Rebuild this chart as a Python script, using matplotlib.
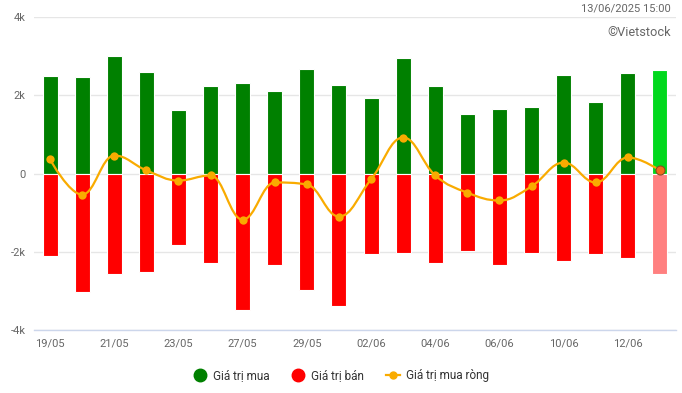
import matplotlib
matplotlib.use("Agg")
import matplotlib.pyplot as plt
from matplotlib.path import Path
from matplotlib.patches import PathPatch
from matplotlib.lines import Line2D
import numpy as np

plt.rcParams['font.family'] = ['Roboto', 'DejaVu Sans']

dates = ["19/05", "20/05", "21/05", "22/05", "23/05", "26/05", "27/05", "28/05", "29/05", "30/05",
         "02/06", "03/06", "04/06", "05/06", "06/06", "09/06", "10/06", "11/06", "12/06", "13/06"]
buy = [2490, 2460, 3000, 2590, 1615, 2230, 2310, 2100, 2670, 2260,
       1920, 2950, 2230, 1510, 1640, 1690, 2510, 1820, 2560, 2640]
sell = [-2120, -3020, -2560, -2530, -1820, -2280, -3480, -2350, -2970, -3380,
        -2070, -2020, -2300, -1990, -2350, -2020, -2230, -2050, -2150, -2560]
net = [360, -540, 460, 80, -180, -50, -1180, -230, -280, -1100,
       -150, 920, -50, -490, -690, -330, 280, -230, 410, 80]
yticks = [-4000, -2000, 0, 2000, 4000]
ytick_labels = ["-4k", "-2k", "0", "2k", "4k"]

W, H = 682, 393
fig = plt.figure(figsize=(W / 100, H / 100), dpi=100)
ax = fig.add_axes([34 / W, 1 - 330 / H, (676 - 34) / W, (330 - 17) / H])

x = np.arange(len(dates))
buy_colors = ["#008000"] * (len(dates) - 1) + ["#00d81c"]
sell_colors = ["#ff0000"] * (len(dates) - 1) + ["#ff8080"]
ax.bar(x, buy, width=0.47, color=buy_colors, edgecolor="white", linewidth=0.8, zorder=2)
ax.bar(x, sell, width=0.47, color=sell_colors, edgecolor="white", linewidth=0.8, zorder=2)

# Highcharts-style spline
def spline_path(xs, ys, smoothing=1.5):
    n = len(xs)
    denom = smoothing + 1
    lc = [(xs[i], ys[i]) for i in range(n)]
    rc = [(xs[i], ys[i]) for i in range(n)]
    for i in range(1, n - 1):
        px, py = xs[i], ys[i]
        lx, ly = xs[i - 1], ys[i - 1]
        nx, ny = xs[i + 1], ys[i + 1]
        lcx = (smoothing * px + lx) / denom
        lcy = (smoothing * py + ly) / denom
        rcx = (smoothing * px + nx) / denom
        rcy = (smoothing * py + ny) / denom
        if rcx != lcx:
            corr = ((rcy - lcy) * (rcx - px)) / (rcx - lcx) + py - rcy
            lcy += corr
            rcy += corr
        if lcy > ly and lcy > py:
            lcy = max(ly, py); rcy = 2 * py - lcy
        elif lcy < ly and lcy < py:
            lcy = min(ly, py); rcy = 2 * py - lcy
        if rcy > ny and rcy > py:
            rcy = max(ny, py); lcy = 2 * py - rcy
        elif rcy < ny and rcy < py:
            rcy = min(ny, py); lcy = 2 * py - rcy
        lc[i] = (lcx, lcy)
        rc[i] = (rcx, rcy)
    verts = [(xs[0], ys[0])]
    codes = [Path.MOVETO]
    for i in range(1, n):
        verts += [rc[i - 1], lc[i], (xs[i], ys[i])]
        codes += [Path.CURVE4] * 3
    return Path(verts, codes)

line_color = "#f9ab00"
ax.add_patch(PathPatch(spline_path(list(x.astype(float)), net), fill=False,
                       edgecolor=line_color, linewidth=1.6, zorder=3))
ax.plot(x[:-1], net[:-1], "o", color=line_color, markersize=6, zorder=4, markeredgewidth=0)
ax.plot(x[-1:], net[-1:], "o", color="#f26a1b", markersize=6.5, zorder=4,
        markeredgecolor="#8a4a20", markeredgewidth=0.8)

ax.set_xlim(-0.5, len(dates) - 0.5)
ax.set_ylim(-4000, 4000)
ax.set_yticks(yticks)
ax.set_yticklabels(ytick_labels)
ax.set_xticks(x[::2])
ax.set_xticklabels(dates[::2])
ax.grid(axis="y", color="#e6e6e6", linewidth=1, zorder=0)
ax.set_axisbelow(True)
for s in ["top", "right", "left"]:
    ax.spines[s].set_visible(False)
ax.spines["bottom"].set_color("#ccd6eb")
ax.spines["bottom"].set_linewidth(1)
ax.tick_params(axis="y", length=0, pad=6, labelsize=8, labelcolor="#666666")
ax.tick_params(axis="x", length=0, pad=6, labelsize=8, labelcolor="#666666")
for lab in ax.get_yticklabels():
    lab.set_horizontalalignment("right")

fig.text(671 / W, 1 - 9 / H, "13/06/2025 15:00", ha="right", va="center",
         fontsize=8, color="#666666")
fig.text(671 / W, 1 - 33 / H, "©Vietstock", ha="right", va="center",
         fontsize=9.2, color="#666666")

handles = [
    Line2D([], [], linestyle="none", marker="o", color="#008000", markersize=9),
    Line2D([], [], linestyle="none", marker="o", color="#ff0000", markersize=9),
    Line2D([], [], color=line_color, marker="o", markersize=5, linewidth=1.6),
]
fig.legend(handles, ["Giá trị mua", "Giá trị bán", "Giá trị mua ròng"],
           loc="center", bbox_to_anchor=(0.5, 1 - 376 / H), ncol=3, frameon=False,
           fontsize=8.5, handlelength=1.2, handletextpad=0.5, columnspacing=1.8,
           labelcolor="#333333")

fig.savefig("out.png", dpi=100)
